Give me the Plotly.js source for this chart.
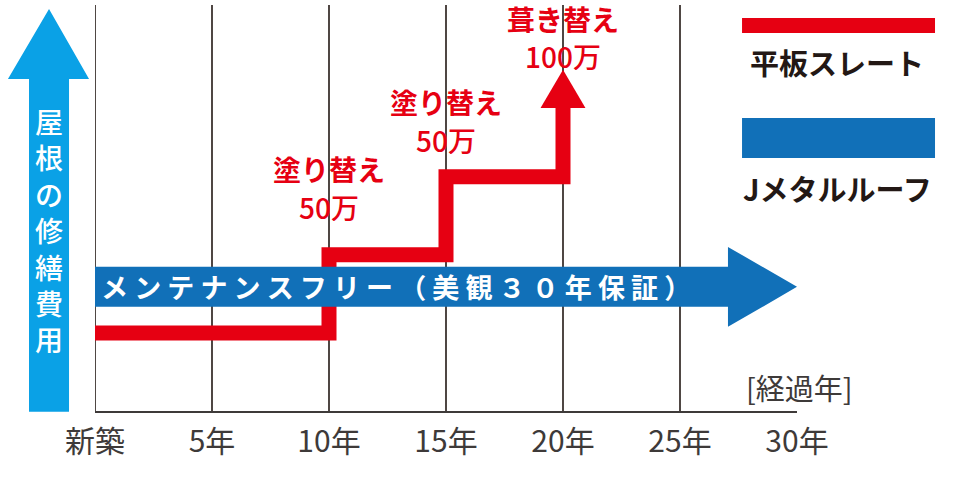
<!DOCTYPE html>
<html>
<head>
<meta charset="utf-8">
<script src="https://cdn.plot.ly/plotly-3.0.1.min.js"></script>
<style>
  html, body { margin: 0; padding: 0; background: #fff; }
  #chart { width: 960px; height: 478px; }
</style>
</head>
<body>
<div id="chart"></div>
<script>
"use strict";

// x axis ticks
var tickYears = [0, 5, 10, 15, 20, 25, 30]
var tickLabels = ["新築", "5年", "10年", "15年", "20年", "25年", "30年"]

// 平板スレート: repair cost steps (arbitrary units), last value is the arrow tip
var slateYears = [0, 10, 15, 20]
var slateCost = [1, 2, 3, 4.37]
var noteTitles = ["塗り替え", "塗り替え", "葺き替え"]
var noteAmounts = ["50万", "50万", "100万"]

// Jメタルルーフ: flat, maintenance free
var metalYears = [0, 30]
var metalCost = [1.59, 1.59]

var RED = "#e60012"
var BLUE = "#1170b8"
var CYAN = "#0aa1e6"
var INK = "#231815"
var GREY = "#3e3a39"
var FONT = "'Noto Sans CJK JP', 'Noto Sans', sans-serif"

// red stepped line, ending below the arrow head
var headLen = 0.49
var headHalf = 0.96
var slateTip = slateCost[slateCost.length - 1]
var lastYear = slateYears[slateYears.length - 1]
var lineY = slateCost.slice(0, -1).concat([slateTip - headLen])

var slateLine = {
  x: slateYears, y: lineY,
  mode: "lines", line: {color: RED, width: 15, shape: "hv"},
  hoverinfo: "skip", showlegend: false
}
var slateHead = {
  x: [lastYear - headHalf, lastYear + headHalf, lastYear, lastYear - headHalf],
  y: [slateTip - headLen, slateTip - headLen, slateTip, slateTip - headLen],
  mode: "lines", fill: "toself", fillcolor: RED, line: {width: 0},
  hoverinfo: "skip", showlegend: false
}

// blue arrow for the metal roof
var m0 = metalYears[0], m1 = metalYears[1], mv = metalCost[0]
var bodyHalf = 0.256, arrowHalf = 0.512, arrowLen = 2.95
var metalArrow = {
  x: [m0, m1 - arrowLen, m1 - arrowLen, m1, m1 - arrowLen, m1 - arrowLen, m0, m0],
  y: [mv + bodyHalf, mv + bodyHalf, mv + arrowHalf, metalCost[1], mv - arrowHalf, mv - bodyHalf, mv - bodyHalf, mv + bodyHalf],
  mode: "lines", fill: "toself", fillcolor: BLUE, line: {width: 0},
  hoverinfo: "skip", showlegend: false
}

// vertical grid lines (none at the last tick)
var shapes = tickYears.filter(function(v){ return v < 30 }).map(function(v){
  return {type: "line", xref: "x", yref: "paper", x0: v, x1: v, y0: 0, y1: 1,
          line: {color: INK, width: 1.6}, layer: "below"}
})

// left "cost" arrow
shapes.push({
  type: "path", xref: "paper", yref: "paper", fillcolor: CYAN, line: {width: 0},
  path: "M -0.094 -0.002 L -0.037 -0.002 L -0.037 0.818 L -0.0085 0.818 L -0.0655 0.990 L -0.124 0.818 L -0.094 0.818 Z"
})

// legend swatches
shapes.push({type: "rect", xref: "paper", yref: "paper", x0: 0.9217, x1: 1.1966, y0: 0.931, y1: 0.968,
             fillcolor: RED, line: {width: 0}})
shapes.push({type: "rect", xref: "paper", yref: "paper", x0: 0.9217, x1: 1.1966, y0: 0.6232, y1: 0.7217,
             fillcolor: BLUE, line: {width: 0}})

// pixel offsets of note lines above their level
var titleShift = [86, 75, 51]
var amountShift = [48, 37, 14]
var annotations = []
noteTitles.forEach(function(t, i){
  var level = i < 2 ? slateCost[i + 1] : slateTip
  annotations.push({
    x: slateYears[i + 1], y: level, xref: "x", yref: "y", xanchor: "center", yanchor: "middle",
    text: t, showarrow: false, yshift: titleShift[i], height: 28, borderpad: 0,
    font: {family: FONT, size: 28, weight: 700, color: RED}
  })
  annotations.push({
    x: slateYears[i + 1], y: level, xref: "x", yref: "y", xanchor: "center", yanchor: "middle",
    text: noteAmounts[i], showarrow: false, yshift: amountShift[i], height: 28, borderpad: 0,
    font: {family: FONT, size: 28, weight: 500, color: RED}
  })
})

annotations.push({
  x: m0, y: mv, xref: "x", yref: "y", xanchor: "left", yanchor: "middle", xshift: 4,
  text: "<b>メ ン テ ナ ン ス フ リ ー （ 美 観 ３ ０ 年 保 証 ）</b>",
  showarrow: false, font: {family: FONT, size: 27, color: "#ffffff"}
})
annotations.push({
  x: -0.0655, y: 0.447, xref: "paper", yref: "paper", xanchor: "center", yanchor: "middle",
  text: "屋<br>根<br>の<br>修<br>繕<br>費<br>用",
  showarrow: false, font: {family: FONT, size: 28, weight: 500, color: "#ffffff"}
})
annotations.push({
  x: 1.057, y: 0.8596, xref: "paper", yref: "paper", xanchor: "center", yanchor: "middle",
  text: "<b>平板スレート</b>", showarrow: false,
  font: {family: FONT, size: 29, color: INK}
})
annotations.push({
  x: 1.057, y: 0.549, xref: "paper", yref: "paper", xanchor: "center", yanchor: "middle",
  text: "<b>Jメタルルーフ</b>", showarrow: false,
  font: {family: FONT, size: 29, color: INK}
})
annotations.push({
  x: 1.004, y: 0.059, xref: "paper", yref: "paper", xanchor: "center", yanchor: "middle",
  text: "[経過年]", showarrow: false,
  font: {family: FONT, size: 29, color: GREY}
})

var layout = {
  width: 960, height: 478,
  margin: {l: 95, r: 163, t: 5, b: 67},
  paper_bgcolor: "#ffffff", plot_bgcolor: "#ffffff",
  font: {family: FONT},
  xaxis: {
    range: [0, 30], tickvals: tickYears, ticktext: tickLabels,
    showgrid: false, zeroline: false, ticks: "", ticklabelstandoff: 3,
    showline: true, linecolor: GREY, linewidth: 2,
    tickfont: {family: FONT, size: 30, color: GREY}, fixedrange: true
  },
  yaxis: {range: [0, 5.2], visible: false, fixedrange: true},
  shapes: shapes,
  annotations: annotations
}

Plotly.newPlot("chart", [slateLine, slateHead, metalArrow], layout, {displayModeBar: false, staticPlot: true})
</script>
</body>
</html>
